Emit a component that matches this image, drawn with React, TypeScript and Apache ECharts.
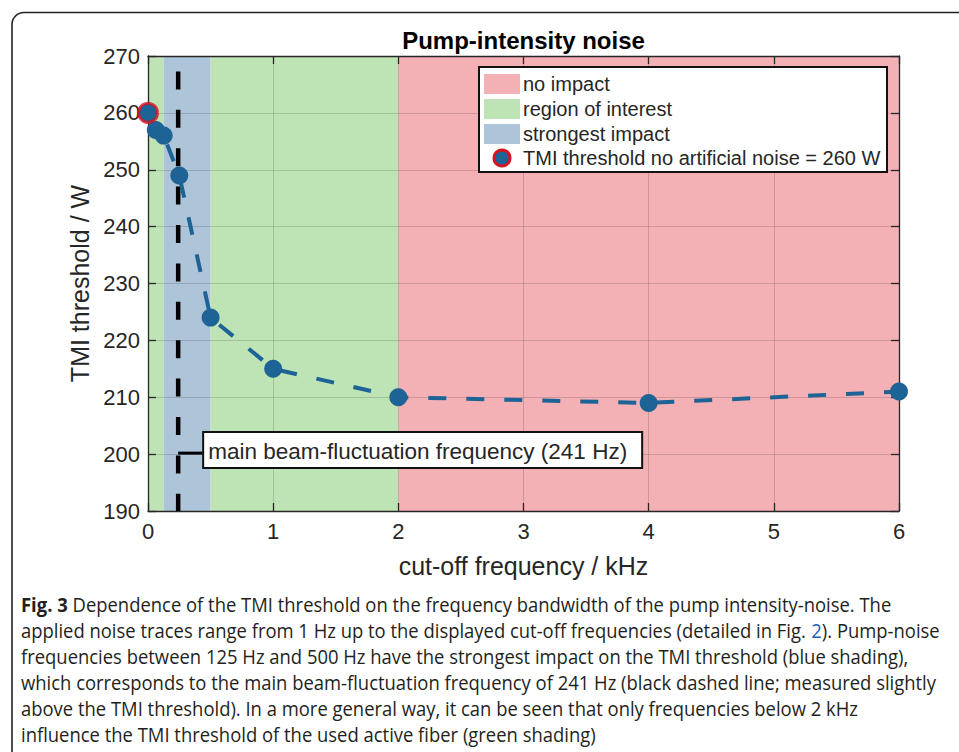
import React, { useEffect, useRef } from 'react';
import * as echarts from 'echarts';

// ---- data ----
const cutoffKHz = [0, 0.0625, 0.125, 0.25, 0.5, 1, 2, 4, 6];
const tmiThresholdW = [260, 257, 256, 249, 224, 215, 210, 209, 211];
const noNoiseThreshold = [0, 260];
const beamFluctuationKHz = 0.241;
const annotationLevelW = 200;
const shadingFrom = [0, 0.125, 0.5, 2];
const shadingTo = [0.125, 0.5, 2, 6];
const shadingKind = ['interest', 'strongest', 'interest', 'none'];
const legendLabels = ['no impact', 'region of interest', 'strongest impact', 'TMI threshold no artificial noise = 260 W'];
const legendKinds = ['none', 'interest', 'strongest', 'marker'];
const xRange = [0, 6, 1];
const yRange = [190, 270, 10];
const titleText = 'Pump-intensity noise';
const xName = 'cut-off frequency / kHz';
const yName = 'TMI threshold / W';
const annotationText = 'main beam-fluctuation frequency (241 Hz)';
const captionLines = [
  '{b|Fig. 3} Dependence of the TMI threshold on the frequency bandwidth of the pump intensity-noise. The',
  'applied noise traces range from 1 Hz up to the displayed cut-off frequencies (detailed in Fig. {l|2}). Pump-noise',
  'frequencies between 125 Hz and 500 Hz have the strongest impact on the TMI threshold (blue shading),',
  'which corresponds to the main beam-fluctuation frequency of 241 Hz (black dashed line; measured slightly',
  'above the TMI threshold). In a more general way, it can be seen that only frequencies below 2 kHz',
  'influence the TMI threshold of the used active fiber (green shading)',
];

// ---- styles ----
const FONT = '"Liberation Sans", Arial, Helvetica, sans-serif';
const CAP_FONT = '"Open Sans", "Noto Sans", sans-serif';
const AXIS = '#262626';
const BLUE = '#1d6396';
const RED_RING = '#d8121f';
const SHADE: Record<string, string> = {
  none: '#f3b0b5',
  interest: '#bee3b4',
  strongest: '#adc4d9',
};

export default function App() {
  const ref = useRef<HTMLDivElement>(null);
  useEffect(() => {
    document.body.style.margin = '0';
    if (!ref.current) return;
    const chart = echarts.init(ref.current, undefined, { renderer: 'svg' });

    const gridL = 148, gridT = 56, gridW = 751, gridH = 455;

    const axisCommon = {
      type: 'value' as const,
      z: 2,
      axisLine: { show: true, onZero: false, lineStyle: { color: AXIS, width: 1.3 } },
      axisTick: { show: true, inside: true, length: 8, lineStyle: { color: AXIS, width: 1.3 } },
      silent: true,
    };

    chart.setOption({
      animation: false,
      backgroundColor: '#ffffff',
      grid: { left: gridL, top: gridT, width: gridW, height: gridH, containLabel: false },
      xAxis: [
        {
          ...axisCommon,
          position: 'bottom',
          min: xRange[0], max: xRange[1], interval: xRange[2],
          axisLabel: { color: AXIS, fontSize: 22, fontFamily: FONT, margin: 9 },
          splitLine: { show: true, lineStyle: { color: 'rgba(0,0,0,0.15)', width: 1 } },
          name: xName, nameLocation: 'middle', nameGap: 42,
          nameTextStyle: { color: AXIS, fontSize: 25, fontFamily: FONT },
        },
        {
          ...axisCommon,
          position: 'top',
          min: xRange[0], max: xRange[1], interval: xRange[2],
          axisLabel: { show: false },
          splitLine: { show: false },
        },
      ],
      yAxis: [
        {
          ...axisCommon,
          position: 'left',
          min: yRange[0], max: yRange[1], interval: yRange[2],
          axisLabel: { color: AXIS, fontSize: 22, fontFamily: FONT, margin: 8 },
          splitLine: { show: true, lineStyle: { color: 'rgba(0,0,0,0.15)', width: 1 } },
          name: yName, nameLocation: 'middle', nameGap: 45,
          nameTextStyle: { color: AXIS, fontSize: 25, fontFamily: FONT },
        },
        {
          ...axisCommon,
          position: 'right',
          min: yRange[0], max: yRange[1], interval: yRange[2],
          axisLabel: { show: false },
          splitLine: { show: false },
        },
      ],
      series: [
        {
          type: 'line',
          name: 'shading',
          data: [],
          silent: true,
          markArea: {
            silent: true,
            z: 1,
            data: shadingFrom.map((f, i) => [
              { xAxis: f, itemStyle: { color: SHADE[shadingKind[i]], opacity: 1 } },
              { xAxis: shadingTo[i] },
            ]),
          },
        },
        {
          type: 'line',
          name: 'beam fluctuation',
          data: [[beamFluctuationKHz, yRange[1]], [beamFluctuationKHz, yRange[0]]],
          symbol: 'none',
          silent: true,
          z: 2.5,
          lineStyle: { color: '#000000', width: 4.5, type: [18, 20.4], dashOffset: 23 },
        },
        {
          type: 'line',
          name: 'TMI threshold',
          data: cutoffKHz.map((x, i) => [x, tmiThresholdW[i]]),
          symbol: 'circle',
          symbolSize: 18,
          showAllSymbol: true,
          clip: false,
          silent: true,
          z: 3,
          lineStyle: { color: BLUE, width: 4, type: [18, 20] },
          itemStyle: { color: BLUE },
        },
        {
          type: 'scatter',
          name: 'no noise',
          data: [noNoiseThreshold],
          symbol: 'circle',
          symbolSize: 19,
          clip: false,
          silent: true,
          z: 4,
          itemStyle: { color: BLUE, borderColor: RED_RING, borderWidth: 3 },
        },
      ],
    });

    // annotation anchor from data coordinates
    const anchor = chart.convertToPixel({ gridIndex: 0 }, [beamFluctuationKHz, annotationLevelW]) as number[];

    // caption scaling (condensed look)
    const ctx = document.createElement('canvas').getContext('2d')!;
    const capSize = 20;
    ctx.font = `bold ${capSize}px ${CAP_FONT}`;
    const wBold = ctx.measureText('Fig. 3').width;
    ctx.font = `${capSize}px ${CAP_FONT}`;
    const wRest = ctx.measureText(captionLines[0].replace('{b|Fig. 3}', '')).width;
    const capScale = 871 / (wBold + wRest);

    const capRich = {
      b: { fontWeight: 'bold', fontFamily: CAP_FONT, fontSize: capSize, fill: '#231f20' },
      l: { fontFamily: CAP_FONT, fontSize: capSize, fill: '#1a5fb4' },
    };

    const legendY = [84, 109, 134, 158];
    const legendChildren: any[] = [
      {
        type: 'rect',
        shape: { x: 479, y: 67, width: 408, height: 105 },
        style: { fill: '#ffffff', stroke: '#111111', lineWidth: 2 },
      },
    ];
    legendLabels.forEach((lab, i) => {
      const kind = legendKinds[i];
      if (kind === 'marker') {
        legendChildren.push({
          type: 'circle',
          shape: { cx: 502, cy: legendY[i], r: 8 },
          style: { fill: BLUE, stroke: RED_RING, lineWidth: 3 },
        });
      } else {
        legendChildren.push({
          type: 'rect',
          shape: { x: 484, y: legendY[i] - 10, width: 36, height: 20 },
          style: { fill: SHADE[kind] },
        });
      }
      legendChildren.push({
        type: 'text',
        x: 523,
        y: legendY[i],
        style: { text: lab, fontSize: 20, fontFamily: FONT, fill: AXIS, verticalAlign: 'middle' },
      });
    });

    const boxX = anchor[0] + 25;
    chart.setOption({
      graphic: [
        {
          id: 'frame',
          type: 'rect',
          z: 100,
          silent: true,
          shape: { x: 12, y: 12.5, width: 1000, height: 800, r: 12 },
          style: { fill: 'none', stroke: '#222222', lineWidth: 1.6 },
        },
        {
          id: 'title',
          type: 'text',
          z: 100,
          x: gridL + gridW / 2,
          y: 40,
          style: {
            text: titleText, fontSize: 24, fontWeight: 'bold', fontFamily: FONT,
            fill: '#000000', align: 'center', verticalAlign: 'middle',
          },
        },
        { id: 'legend', type: 'group', z: 100, children: legendChildren.map((c) => ({ ...c, z: 100 })) },
        {
          id: 'annotation',
          type: 'group',
          z: 100,
          children: [
            {
              type: 'line', z: 100,
              shape: { x1: anchor[0], y1: anchor[1] - 1, x2: boxX, y2: anchor[1] - 1 },
              style: { stroke: '#000000', lineWidth: 3 },
            },
            {
              type: 'rect', z: 100,
              shape: { x: boxX, y: 432, width: 439, height: 36 },
              style: { fill: '#ffffff', stroke: '#111111', lineWidth: 2 },
            },
            {
              type: 'text', z: 101,
              x: boxX + 5, y: 451,
              style: { text: annotationText, fontSize: 22.5, fontFamily: FONT, fill: AXIS, verticalAlign: 'middle' },
            },
          ],
        },
        {
          id: 'caption',
          type: 'group',
          z: 100,
          x: 21,
          y: 0,
          scaleX: capScale,
          children: captionLines.map((t, i) => ({
            type: 'text',
            z: 100,
            x: 0,
            y: 604 + i * 26,
            style: {
              text: t, fontSize: capSize, fontFamily: CAP_FONT, fill: '#231f20',
              verticalAlign: 'middle', rich: capRich,
            },
          })),
        },
      ],
    });

    return () => chart.dispose();
  }, []);

  return <div ref={ref} style={{ width: 959, height: 752 }} />;
}
